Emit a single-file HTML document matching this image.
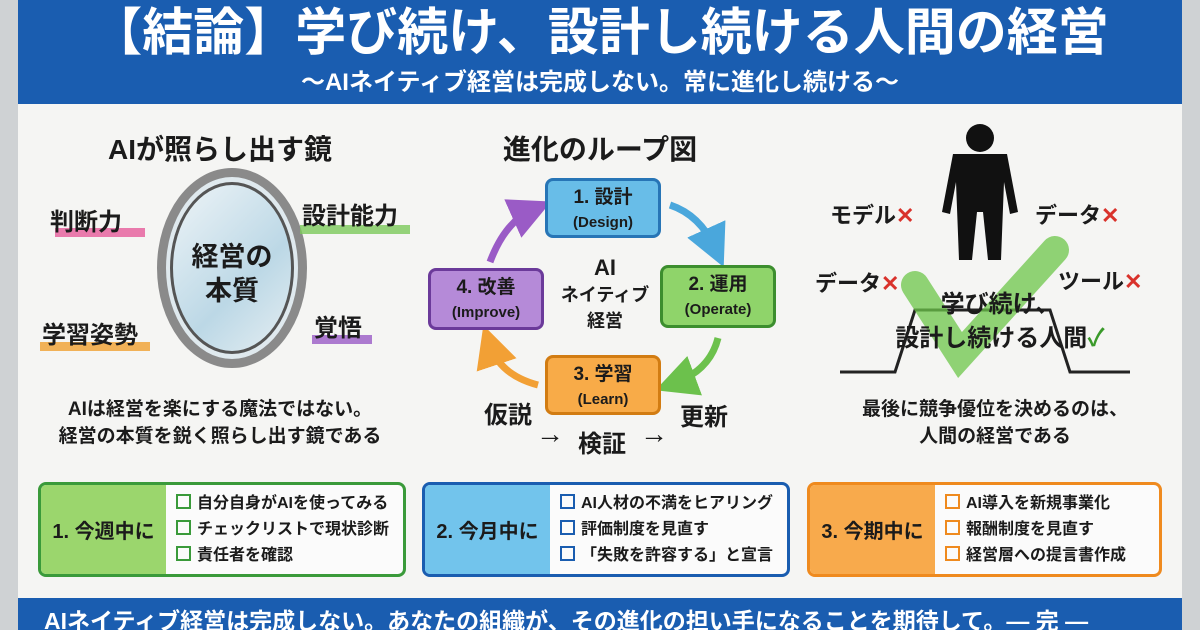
<!DOCTYPE html><html><head><meta charset="utf-8"><style>
body{margin:0;width:1200px;height:630px;overflow:hidden;background:#cfd2d4;font-family:"Liberation Sans","Noto Sans CJK JP",sans-serif;font-weight:bold;color:#1b1b1b}
.a{position:absolute}
.c{position:absolute;text-align:center;white-space:nowrap}
.box{position:absolute;border-radius:8px;border:3px solid;text-align:center;font-size:19px;line-height:24px;padding-top:5px;box-sizing:border-box}
.box small{font-size:15px;font-weight:bold}
.card{position:absolute;top:482px;height:95px;border:3px solid;border-radius:8px;background:#fbfbfb;box-sizing:border-box;overflow:hidden}
.card .l{position:absolute;left:0;top:0;bottom:0;width:125px;font-size:20px;display:flex;align-items:center;justify-content:center}
.card ul{position:absolute;left:135px;top:6px;margin:0;padding:0;list-style:none;font-size:16px;line-height:26px}
.card li:before{content:"";display:inline-block;width:11px;height:11px;border:2px solid var(--k);margin-right:6px;vertical-align:-1px}
.x{color:#d9322b}
</style></head><body>
<div class="a" style="left:18px;top:0;width:1164px;height:630px;background:#f5f5f3"></div>
<div class="a" style="left:18px;top:0;width:1164px;height:104px;background:#1a5db0"></div>
<div class="c" style="left:18px;width:1164px;top:2px;font-size:51px;color:#fff;line-height:62px">【結論】学び続け、設計し続ける人間の経営</div>
<div class="c" style="left:18px;width:1164px;top:68px;font-size:24px;color:#fff;line-height:30px">〜AIネイティブ経営は完成しない。常に進化し続ける〜</div>

<!-- left -->
<div class="c" style="left:70px;width:300px;top:128px;font-size:28px">AIが照らし出す鏡</div>
<div class="a" style="left:157px;top:168px;width:150px;height:200px;border-radius:50%;border:9px solid #8a8a8a;box-sizing:border-box;background:#dfe9ee"></div>
<div class="a" style="left:170px;top:182px;width:124px;height:172px;border-radius:50%;border:3px solid #555;box-sizing:border-box;background:linear-gradient(135deg,#eef4f7,#bcd8e6 60%,#e5eef2)"></div>
<div class="c" style="left:182px;width:100px;top:240px;font-size:27px;line-height:34px">経営の<br>本質</div>
<div class="a" style="left:55px;top:228px;width:90px;height:9px;background:#e65b9a;opacity:.8"></div>
<div class="c" style="left:50px;top:202px;font-size:24px">判断力</div>
<div class="a" style="left:300px;top:225px;width:110px;height:9px;background:#7cc95a;opacity:.8"></div>
<div class="c" style="left:302px;top:196px;font-size:24px">設計能力</div>
<div class="a" style="left:40px;top:342px;width:110px;height:9px;background:#f0a030;opacity:.8"></div>
<div class="c" style="left:42px;top:315px;font-size:24px">学習姿勢</div>
<div class="a" style="left:312px;top:335px;width:60px;height:9px;background:#9a5bc6;opacity:.8"></div>
<div class="c" style="left:314px;top:308px;font-size:24px">覚悟</div>
<div class="c" style="left:30px;width:380px;top:396px;font-size:19px;line-height:27px">AIは経営を楽にする魔法ではない。<br>経営の本質を鋭く照らし出す鏡である</div>

<!-- middle -->
<div class="c" style="left:450px;width:300px;top:128px;font-size:28px">進化のループ図</div>
<svg class="a" style="left:420px;top:170px" width="380" height="260">
<defs><marker id="m" markerWidth="6" markerHeight="6" refX="3" refY="3" orient="auto"><path d="M0,0L6,3L0,6z" fill="context-stroke"/></marker></defs>
<path d="M250,35 Q280,45 295,78" stroke="#4aa7dc" stroke-width="7" fill="none" marker-end="url(#m)"/>
<path d="M298,168 Q290,200 255,213" stroke="#6cc14c" stroke-width="7" fill="none" marker-end="url(#m)"/>
<path d="M118,215 Q80,205 70,175" stroke="#f2a035" stroke-width="7" fill="none" marker-end="url(#m)"/>
<path d="M70,92 Q85,52 112,40" stroke="#9a5bc6" stroke-width="7" fill="none" marker-end="url(#m)"/>
</svg>
<div class="box" style="left:545px;top:178px;width:116px;height:60px;border-color:#2775b6;background:#68bde8">1. 設計<br><small>(Design)</small></div>
<div class="box" style="left:660px;top:265px;width:116px;height:63px;border-color:#3c8e2e;background:#8fd46a">2. 運用<br><small>(Operate)</small></div>
<div class="box" style="left:545px;top:355px;width:116px;height:60px;border-color:#d27c12;background:#f8ab48">3. 学習<br><small>(Learn)</small></div>
<div class="box" style="left:428px;top:268px;width:116px;height:62px;border-color:#6b3a9a;background:#b58ad8">4. 改善<br><small>(Improve)</small></div>
<div class="c" style="left:555px;width:100px;top:255px;font-size:22px;line-height:26px">AI<br><span style="font-size:18px;line-height:24px">ネイティブ<br>経営</span></div>
<div class="c" style="left:484px;top:395px;font-size:24px">仮説</div>
<div class="c" style="left:536px;top:418px;font-size:28px">→</div>
<div class="c" style="left:578px;top:424px;font-size:24px">検証</div>
<div class="c" style="left:640px;top:418px;font-size:28px">→</div>
<div class="c" style="left:680px;top:397px;font-size:24px">更新</div>

<!-- right -->
<svg class="a" style="left:820px;top:110px" width="350" height="280">
<circle cx="160" cy="28" r="14" fill="#111"/>
<path d="M133,44 L187,44 L198,102 L190,104 L184,72 L181,150 L168,150 L163,102 L157,102 L152,150 L139,150 L136,72 L130,104 L122,102Z" fill="#111"/>
<path d="M20,262 L75,262 L95,200 L230,200 L250,262 L310,262" stroke="#222" stroke-width="3" fill="none"/>
<path d="M95,175 L140,245 L235,140" stroke="#6cc64a" stroke-width="28" fill="none" opacity=".75" stroke-linecap="round"/>
</svg>
<div class="c" style="left:830px;top:198px;font-size:22px">モデル<span class="x">✕</span></div>
<div class="c" style="left:1035px;top:198px;font-size:22px">データ<span class="x">✕</span></div>
<div class="c" style="left:815px;top:266px;font-size:22px">データ<span class="x">✕</span></div>
<div class="c" style="left:1058px;top:264px;font-size:22px">ツール<span class="x">✕</span></div>
<div class="c" style="left:850px;width:300px;top:288px;font-size:24px;line-height:34px">学び続け、<br>設計し続ける人間<span style="color:#3a9a2a">✓</span></div>
<div class="c" style="left:830px;width:330px;top:396px;font-size:19px;line-height:27px">最後に競争優位を決めるのは、<br>人間の経営である</div>

<!-- cards -->
<div class="card" style="left:38px;width:368px;border-color:#3a9a3a;--k:#3a9a3a"><div class="l" style="background:#9bd66d">1. 今週中に</div><ul><li>自分自身がAIを使ってみる</li><li>チェックリストで現状診断</li><li>責任者を確認</li></ul></div>
<div class="card" style="left:422px;width:368px;border-color:#1a5db0;--k:#1a5db0"><div class="l" style="background:#72c4ec">2. 今月中に</div><ul><li>AI人材の不満をヒアリング</li><li>評価制度を見直す</li><li>「失敗を許容する」と宣言</li></ul></div>
<div class="card" style="left:807px;width:355px;border-color:#ef8a1e;--k:#ef8a1e"><div class="l" style="background:#f8aa4c">3. 今期中に</div><ul><li>AI導入を新規事業化</li><li>報酬制度を見直す</li><li>経営層への提言書作成</li></ul></div>

<div class="a" style="left:18px;top:598px;width:1164px;height:32px;background:#1a5db0;overflow:hidden"><div style="color:#fff;font-size:23px;line-height:30px;padding-left:26px;margin-top:8px;white-space:nowrap">AIネイティブ経営は完成しない。あなたの組織が、その進化の担い手になることを期待して。― 完 ―</div></div>
</body></html>
